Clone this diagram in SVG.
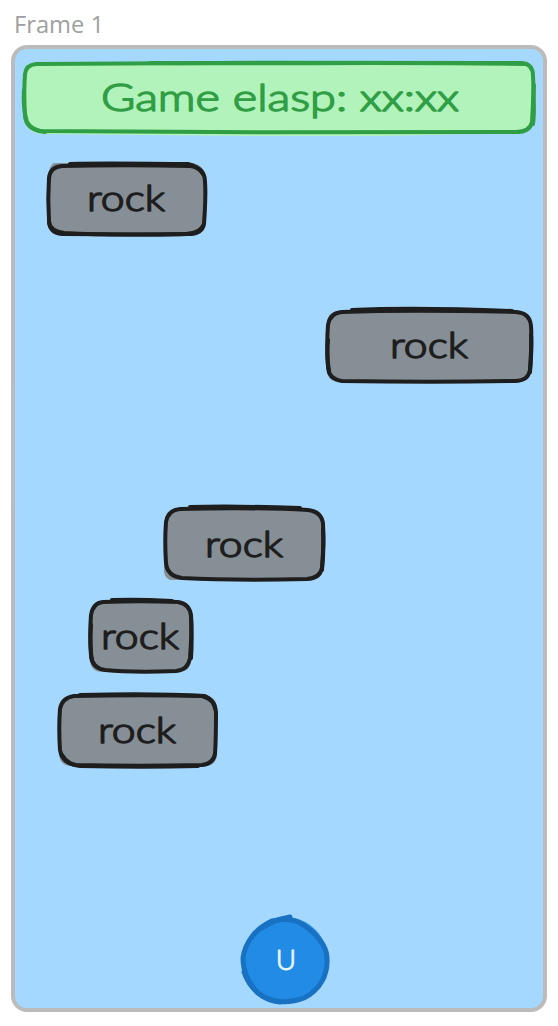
<svg xmlns="http://www.w3.org/2000/svg" width="558" height="1026" viewBox="0 0 558 1026">
<style>
.fr{fill:#a5d8ff;stroke:#bbbbbb;stroke-width:4}
.lbl{font-family:"Open Sans","Liberation Sans",sans-serif;font-size:23px;fill:#a0a0a0}
.rf{fill:#868e96;stroke:none}
.rs{fill:none;stroke:#1e1e1e;stroke-width:4;stroke-linecap:round;stroke-linejoin:round}
.gf{fill:#b2f2bb;stroke:none}
.gs{fill:none;stroke:#2f9e44;stroke-width:4;stroke-linecap:round;stroke-linejoin:round}
.cf{fill:#228be6;stroke:none}
.cs{fill:none;stroke:#1971c2;stroke-width:5;stroke-linecap:round;stroke-linejoin:round}
.t{font-family:"Lato","Noto Sans",sans-serif;text-anchor:middle;stroke-linejoin:round}
.rt{font-size:36px;font-weight:300;fill:#1e1e1e;stroke:#1e1e1e;stroke-width:1.5}
.gt{font-size:38px;font-weight:300;fill:#2f9e44;stroke:#2f9e44;stroke-width:1.5}
.ut{font-size:28px;font-weight:300;fill:#e7f5ff;stroke:#e7f5ff;stroke-width:1}
</style>
<g id="frame">
<text class="lbl" x="14" y="33" textLength="90" lengthAdjust="spacingAndGlyphs">Frame 1</text>
<rect class="fr" x="13" y="47" width="532" height="963" rx="14"/>
</g>
<g id="timer">
<path class="gf" d="M38 62 H520 Q533 62 533 75 V118 Q533 133 518 133 L380 136 H260 L40 134 Q25 131 25 118 V75 Q25 62 38 62Z"/>
<path class="gs" d="M36 64 C180 63 380 62 522 63 Q533 64 533 76 C534 90 533 105 532 122 Q530 132 516 132 C370 133 190 132 40 131 Q26 128 25 116 C24 100 24 88 25 74 Q26 65 36 64Z"/>
<path class="gs" d="M150 63 C280 64 400 62 525 64 M534 85 C533 100 535 110 533 124 M24 90 C23 105 24 112 27 122 Q32 131 45 132"/>
<text class="t gt" x="280" y="111" textLength="358" lengthAdjust="spacingAndGlyphs">Game elasp: xx:xx</text>
</g>
<g id="rock1">
<path class="rf" d="M54 163 H192 Q205 165 205 178 V222 Q205 235 192 235 H62 Q48 235 48 222 V178 Q49 165 54 163Z"/>
<path class="rs" d="M62 166 C100 165 150 165 190 166 Q205 168 205 182 C206 195 205 210 204 224 Q202 234 188 234 C150 235 100 234 62 234 Q49 233 49 220 C48 205 48 192 49 178 Q50 167 62 166Z"/>
<path class="rs" d="M70 164 C110 163 150 164 188 164 Q198 166 203 174 M203 226 Q199 233 186 234 C140 235 100 235 64 233 Q50 231 49 222"/>
<text class="t rt" x="126" y="211" textLength="78" lengthAdjust="spacingAndGlyphs">rock</text>
</g>
<g id="rock2">
<path class="rf" d="M340 311 H518 Q531 311 531 324 V369 Q531 382 518 382 H340 Q327 382 327 369 V324 Q327 311 340 311Z"/>
<path class="rs" d="M342 312 C400 310 470 311 516 312 Q530 313 531 326 C532 340 531 355 530 370 Q528 381 515 381 C460 382 400 382 342 381 Q328 379 328 366 C327 352 327 338 328 325 Q330 313 342 312Z"/>
<path class="rs" d="M352 310 C400 308 460 309 512 311 M531 335 C532 348 531 360 530 372 M328 340 C327 350 327 362 329 370"/>
<text class="t rt" x="429" y="358" textLength="78" lengthAdjust="spacingAndGlyphs">rock</text>
</g>
<g id="rock3">
<path class="rf" d="M178 509 H310 Q323 509 323 522 V567 Q323 580 310 580 H170 Q165 578 164 572 L165 522 Q165 509 178 509Z"/>
<path class="rs" d="M180 509 C220 508 270 508 308 510 Q322 512 323 524 C324 540 323 555 322 568 Q320 578 307 579 C265 580 220 580 182 578 Q167 576 166 563 C165 548 165 535 166 522 Q168 510 180 509Z"/>
<path class="rs" d="M190 507 C230 506 270 507 300 508 M323 530 C324 545 323 560 322 570"/>
<text class="t rt" x="244" y="557" textLength="78" lengthAdjust="spacingAndGlyphs">rock</text>
</g>
<g id="rock4">
<path class="rf" d="M103 602 H178 Q191 602 191 615 V659 Q191 672 178 672 H103 Q90 672 90 659 V615 Q90 602 103 602Z"/>
<path class="rs" d="M103 602 C125 601 155 601 178 602 Q190 604 191 616 C192 630 191 645 190 658 Q188 670 176 671 C150 672 125 672 105 670 Q92 668 91 656 C90 642 90 628 91 615 Q93 603 103 602Z"/>
<path class="rs" d="M112 600 C135 599 155 600 172 601 M191 615 C192 635 192 645 191 658 M91 625 C90 640 90 650 92 660"/>
<text class="t rt" x="140" y="649" textLength="78" lengthAdjust="spacingAndGlyphs">rock</text>
</g>
<g id="rock5">
<path class="rf" d="M72 696 H204 Q217 696 217 709 V753 Q217 766 204 766 H72 Q59 766 59 753 V709 Q59 696 72 696Z"/>
<path class="rs" d="M74 696 C115 695 165 695 202 696 Q215 699 216 712 C216 725 216 740 215 754 Q213 764 202 765 C160 766 115 766 76 765 Q62 763 60 750 C59 735 59 722 60 709 Q62 698 74 696Z"/>
<path class="rs" d="M80 695 C120 694 170 694 205 696 Q213 699 215 708 M62 755 Q68 765 80 766 C120 767 165 767 198 766"/>
<text class="t rt" x="137" y="743" textLength="78" lengthAdjust="spacingAndGlyphs">rock</text>
</g>
<g id="player">
<path class="cf" d="M285 917 C310 917 328 938 328 960 C328 985 305 1003 283 1003 C258 1003 242 982 242 960 C242 936 262 917 285 917Z"/>
<path class="cs" d="M272 921 C282 919 292 918 302 924 C316 933 327 946 327 958 C328 975 320 990 304 998 C288 1004 270 1003 258 993 C248 983 243 972 243 958 C245 942 256 929 272 921Z"/>
<path class="cs" d="M262 928 C272 921 280 919 290 917 M244 972 C250 990 265 1001 280 1002"/>
<text class="t ut" x="286" y="970">U</text>
</g>
</svg>
